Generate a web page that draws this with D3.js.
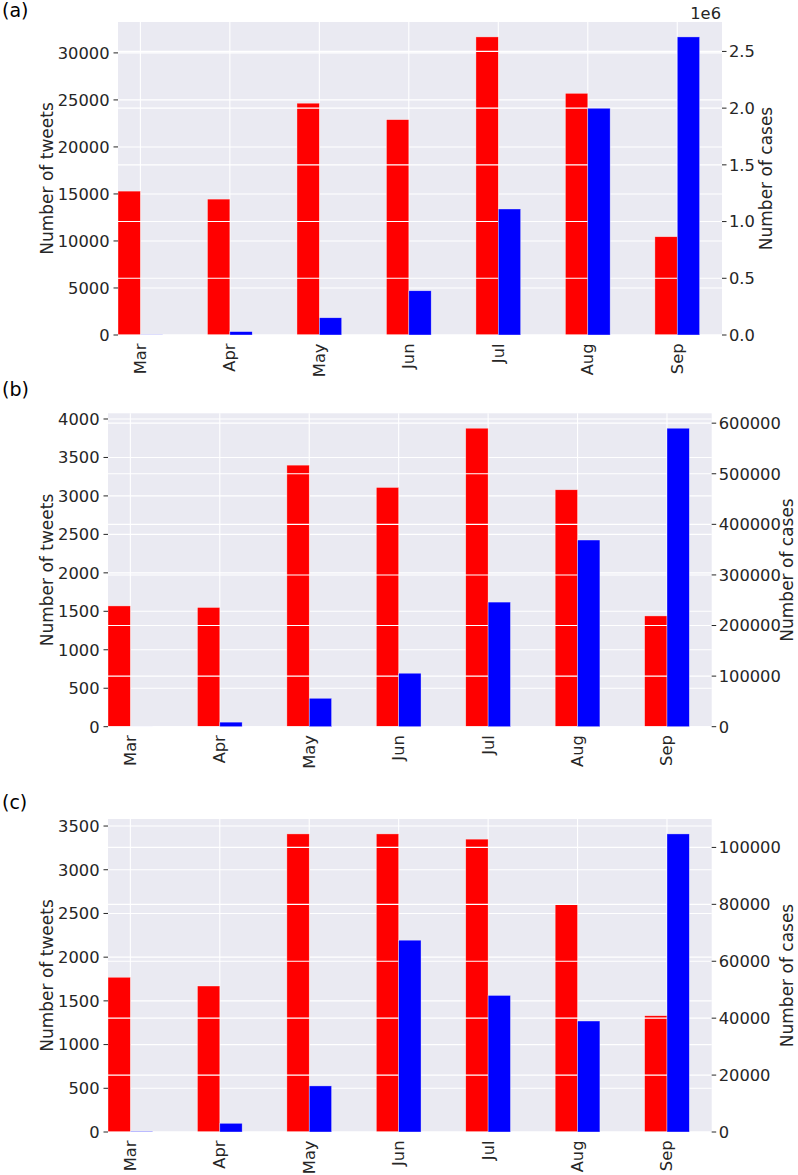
<!DOCTYPE html>
<html>
<head>
<meta charset="utf-8">
<script src="https://cdn.jsdelivr.net/npm/d3@7"></script>
<style>
  html, body { margin: 0; padding: 0; background: #fff; }
  svg { display: block; font-family: "DejaVu Sans", sans-serif; }
</style>
</head>
<body>
<script>
// ---- data ----
const months = ["Mar", "Apr", "May", "Jun", "Jul", "Aug", "Sep"];

const tweetsA = [15300, 14450, 24650, 22900, 31700, 25700, 10450];
const casesA  = [1400, 30000, 152000, 390000, 1111000, 1999000, 2628000];

const tweetsB = [1570, 1550, 3400, 3110, 3880, 3080, 1440];
const casesB  = [300, 9000, 56200, 105700, 246300, 369000, 590000];

const tweetsC = [1770, 1670, 3410, 3410, 3350, 2605, 1330];
const casesC  = [200, 3060, 16200, 67400, 48000, 39000, 104750];

const leftTicksA  = [0, 5000, 10000, 15000, 20000, 25000, 30000];
const rightTicksA = [0, 500000, 1000000, 1500000, 2000000, 2500000];
const rightTickLabelsA = ["0.0", "0.5", "1.0", "1.5", "2.0", "2.5"];

const leftTicksB  = [0, 500, 1000, 1500, 2000, 2500, 3000, 3500, 4000];
const rightTicksB = [0, 100000, 200000, 300000, 400000, 500000, 600000];

const leftTicksC  = [0, 500, 1000, 1500, 2000, 2500, 3000, 3500];
const rightTicksC = [0, 20000, 40000, 60000, 80000, 100000];

const panelLabels = ["(a)", "(b)", "(c)"];
const leftTitle = "Number of tweets";
const rightTitle = "Number of cases";

// ---- layout (styles/positions) ----
const W = 798, H = 1175;
const BG = "#EAEAF2", TXT = "#262626";
const svg = d3.select("body").append("svg").attr("width", W).attr("height", H);

const panels = [
  { label: panelLabels[0], labelY: 17, left: 118, right: 722, top: 22, bottom: 335,
    tweets: tweetsA, cases: casesA, lt: leftTicksA, rt: rightTicksA,
    rfmt: (d, i) => rightTickLabelsA[i], offset: "1e6", lTitleX: 53, rTitleX: 772 },
  { label: panelLabels[1], labelY: 396, left: 108, right: 711.7, top: 413.3, bottom: 726.7,
    tweets: tweetsB, cases: casesB, lt: leftTicksB, rt: rightTicksB,
    rfmt: d => String(d), offset: null, lTitleX: 53, rTitleX: 793 },
  { label: panelLabels[2], labelY: 809, left: 108, right: 711.7, top: 819, bottom: 1132,
    tweets: tweetsC, cases: casesC, lt: leftTicksC, rt: rightTicksC,
    rfmt: d => String(d), offset: null, lTitleX: 53, rTitleX: 793 }
];

panels.forEach(p => {
  const g = svg.append("g");
  const x = d3.scaleLinear().domain([-0.25, months.length - 0.5]).range([p.left, p.right]);
  const yL = d3.scaleLinear().domain([0, d3.max(p.tweets) * 1.05]).range([p.bottom, p.top]);
  const yR = d3.scaleLinear().domain([0, d3.max(p.cases) * 1.05]).range([p.bottom, p.top]);
  const bw = x(0.25) - x(0);

  // background
  g.append("rect").attr("x", p.left).attr("y", p.top)
    .attr("width", p.right - p.left).attr("height", p.bottom - p.top).attr("fill", BG);

  // left-axis grid (behind red)
  const gridL = g.append("g").attr("stroke", "#fff").attr("stroke-width", 1.1);
  gridL.selectAll("line.h").data(p.lt).join("line")
    .attr("x1", p.left).attr("x2", p.right)
    .attr("y1", d => yL(d)).attr("y2", d => yL(d));
  gridL.selectAll("line.v").data(months).join("line")
    .attr("x1", (d, i) => x(i)).attr("x2", (d, i) => x(i))
    .attr("y1", p.top).attr("y2", p.bottom);

  // red bars
  g.append("g").selectAll("rect").data(p.tweets).join("rect")
    .attr("x", (d, i) => x(i - 0.25)).attr("width", bw)
    .attr("y", d => yL(d)).attr("height", d => p.bottom - yL(d))
    .attr("fill", "#ff0000").attr("stroke", "#fff").attr("stroke-width", 0.6).attr("stroke-opacity", 0.6);

  // right-axis grid (over red, under blue)
  const gridR = g.append("g").attr("stroke", "#fff").attr("stroke-width", 1.1);
  gridR.selectAll("line").data(p.rt).join("line")
    .attr("x1", p.left).attr("x2", p.right)
    .attr("y1", d => yR(d)).attr("y2", d => yR(d));

  // blue bars
  g.append("g").selectAll("rect").data(p.cases).join("rect")
    .attr("x", (d, i) => x(i)).attr("width", bw)
    .attr("y", d => yR(d)).attr("height", d => p.bottom - yR(d))
    .attr("fill", "#0000ff").attr("stroke", "#fff").attr("stroke-width", 0.6).attr("stroke-opacity", 0.6);

  // left ticks
  const lt = g.append("g");
  lt.selectAll("line").data(p.lt).join("line")
    .attr("x1", p.left - 4.5).attr("x2", p.left)
    .attr("y1", d => yL(d)).attr("y2", d => yL(d))
    .attr("stroke", TXT).attr("stroke-width", 1);
  lt.selectAll("text").data(p.lt).join("text")
    .attr("x", p.left - 8.5).attr("y", d => yL(d)).attr("dy", "0.36em")
    .attr("text-anchor", "end").attr("font-size", 16.3).attr("fill", TXT)
    .text(d => String(d));

  // right ticks
  const rt = g.append("g");
  rt.selectAll("line").data(p.rt).join("line")
    .attr("x1", p.right).attr("x2", p.right + 4.5)
    .attr("y1", d => yR(d)).attr("y2", d => yR(d))
    .attr("stroke", TXT).attr("stroke-width", 1);
  rt.selectAll("text").data(p.rt).join("text")
    .attr("x", p.right + 7).attr("y", d => yR(d)).attr("dy", "0.36em")
    .attr("text-anchor", "start").attr("font-size", 16.3).attr("fill", TXT)
    .text(p.rfmt);

  if (p.offset) {
    g.append("text").attr("x", p.right - 1).attr("y", p.top - 3)
      .attr("text-anchor", "end").attr("font-size", 16.3).attr("fill", TXT).text(p.offset);
  }

  // x tick labels
  g.append("g").selectAll("text").data(months).join("text")
    .attr("transform", (d, i) => `translate(${x(i) + 5.5},${p.bottom + 8.5}) rotate(-90)`)
    .attr("text-anchor", "end").attr("font-size", 16.3).attr("fill", TXT)
    .text(d => d);

  // axis titles
  const cy = (p.top + p.bottom) / 2;
  g.append("text").attr("transform", `translate(${p.lTitleX},${cy}) rotate(-90)`)
    .attr("text-anchor", "middle").attr("font-size", 17).attr("fill", TXT).text(leftTitle);
  g.append("text").attr("transform", `translate(${p.rTitleX},${cy}) rotate(-90)`)
    .attr("text-anchor", "middle").attr("font-size", 17).attr("fill", TXT).text(rightTitle);

  // panel label
  g.append("text").attr("x", 2).attr("y", p.labelY)
    .attr("font-size", 19).attr("fill", "#000").text(p.label);
});
</script>
</body>
</html>
